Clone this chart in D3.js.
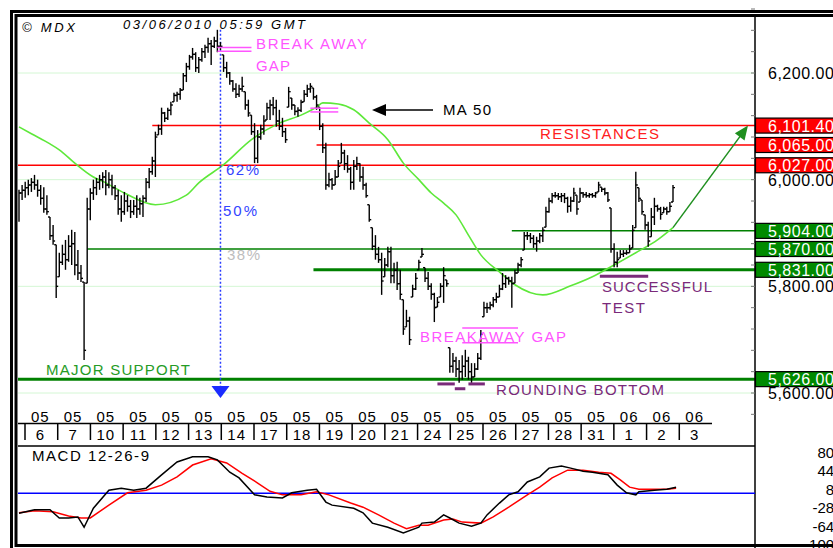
<!DOCTYPE html>
<html>
<head>
<meta charset="utf-8">
<script src="https://cdn.jsdelivr.net/npm/d3@7"></script>
<style>
  body { margin: 0; background: #fff; }
  text { font-family: "Liberation Sans", Arial, sans-serif; }
</style>
</head>
<body>
<svg id="chart" width="833" height="548"></svg>
<script>

// intraday bars, 06/05 -> 02/06/2010
var barHigh = [
  5981,5990,5996,6000,6003,6009,6000,5990,5986,5971,5930,5915,5878,5863,5878,5887,5896,5906,5902,5868,5840,5808,5966,
  5984,6000,6003,6009,6014,6018,6014,6009,5990,5981,5971,5977,5971,5962,5962,5971,5966,5971,6003,6022,
  6043,6090,6103,6135,6127,6135,6146,6163,6165,6172,6200,6219,6234,6247,6239,6230,6247,6253,6266,6262,6268,6281,6258,
  6234,6221,6202,6187,6181,6178,6193,6165,6150,6121,6106,6093,6103,6121,6144,6150,6155,6150,6131,6116,6097,
  6174,6153,6140,6136,6150,6168,6178,6181,6172,6159,6136,6106,6069,6013,6003,6018,6037,6069,6056,6046,6024,6037,
  6043,6031,6024,5994,5953,5910,5896,5874,5863,5853,5874,5874,5844,5846,5831,5775,5756,5743,5803,5825,5850,5872,
  5835,5827,5806,5788,5780,5806,5836,5812,
  5685,5675,5668,5662,5671,5681,5668,5656,5656,5675,5718,5771,5769,5771,5780,5788,5803,5825,5821,5818,5818,5831,
  5844,5855,5902,5902,5900,5896,5893,5900,5911,5949,5966,5975,5977,5975,5975,5975,5968,
  5968,5985,5971,5985,5977,5977,5975,5975,5977,5996,5986,5985,5977,5947,5881,5865,5868,5868,5868,5878,5915,6015,
  5985,5962,5934,5921,5947,5966,5953,5949,5949,5949,5958,5990
];
var barLow = [
  5921,5962,5966,5971,5977,5981,5968,5953,5938,5934,5887,5878,5778,5818,5840,5831,5846,5840,5821,5812,5808,5662,5806,
  5924,5962,5971,5981,5984,5971,5984,5971,5962,5934,5921,5934,5940,5928,5934,5928,5934,5930,5958,5984,
  6009,6005,6084,6084,6108,6112,6121,6146,6146,6150,6168,6183,6206,6225,6202,6200,6221,6228,6238,6215,6247,6239,6243,
  6202,6191,6178,6165,6153,6155,6165,6131,6118,6084,6031,6031,6075,6084,6112,6112,6121,6099,6093,6080,6069,
  6136,6131,6121,6118,6127,6146,6155,6163,6150,6131,6093,6050,5981,5986,5981,5990,6005,6031,6018,6013,5981,5981,
  6018,5996,5981,5966,5921,5868,5850,5844,5784,5818,5836,5806,5806,5793,5775,5709,5724,5690,5780,5793,5831,5855,
  5808,5793,5775,5733,5761,5780,5769,5799,
  5638,5638,5630,5619,5625,5630,5625,5619,5630,5643,5662,5743,5750,5756,5761,5769,5780,5793,5797,5803,5760,5806,
  5825,5836,5868,5887,5881,5872,5865,5881,5883,5911,5938,5956,5966,5962,5958,5956,5938,
  5940,5958,5934,5958,5966,5966,5966,5966,5966,5977,5977,5971,5958,5863,5836,5836,5853,5855,5859,5863,5872,5910,
  5958,5934,5906,5874,5893,5915,5940,5925,5938,5934,5940,5958
];
var barClose = [
  5975,5980,5985,5990,5995,5990,5980,5965,5945,5940,5895,5885,5800,5845,5860,5850,5875,5880,5840,5825,5815,5680,5945,
  5975,5985,5995,6000,6005,5990,6000,5985,5970,5945,5940,5960,5950,5940,5950,5945,5955,5965,5995,6015,
  6035,6080,6095,6125,6115,6130,6140,6158,6160,6168,6195,6212,6230,6235,6210,6225,6240,6248,6255,6250,6260,6250,6250,
  6210,6200,6185,6170,6160,6170,6175,6140,6125,6090,6040,6080,6095,6110,6135,6140,6135,6110,6100,6090,6075,
  6165,6140,6128,6130,6145,6160,6170,6175,6155,6140,6100,6060,5990,6000,5990,6005,6025,6050,6030,6020,5995,6025,
  6030,6005,5990,5970,5925,5875,5860,5850,5810,5840,5865,5820,5830,5805,5785,5720,5735,5700,5795,5815,5845,5860,
  5815,5800,5785,5760,5770,5800,5820,5805,
  5650,5660,5645,5640,5650,5660,5640,5630,5645,5665,5710,5760,5760,5765,5775,5780,5795,5805,5815,5810,5805,5825,
  5840,5850,5895,5895,5890,5880,5885,5895,5905,5940,5960,5970,5970,5968,5970,5965,5950,
  5960,5975,5945,5975,5972,5970,5972,5970,5975,5990,5982,5975,5962,5870,5845,5850,5860,5862,5863,5870,5905,5990,
  5965,5940,5915,5885,5930,5950,5945,5935,5945,5940,5950,5985
];

// 50 period moving average (bar index, value)
var maIndex = [0,4,10,13,18,24,28,34,44,54,58,66,75,84,91,96,98,103,108,113,119,124,129,133,137,141,145,149,155,160,169,178,185,192,199,206,211];
var maValue = [6099,6086,6067,6056,6031,6005,5994,5975,5953,5971,5994,6028,6075,6106,6121,6136,6144,6142,6131,6106,6075,6031,6000,5975,5956,5934,5896,5859,5827,5803,5784,5801,5818,5840,5863,5887,5910];

// MACD 12-26-9 (bar index, value)
var macdIndex = [0,5,10,13,16,19,21,24,29,33,37,41,46,51,56,61,64,68,71,76,80,85,88,93,96,99,101,108,111,114,119,124,129,130,134,137,139,142,146,149,151,155,158,161,164,168,171,175,178,182,185,190,193,196,199,200,205,209,212];
var macdValue = [-39,-32,-32,-48,-48,-46,-66,-29,6,10,6,10,36,61,71,71,65,41,30,-3,-7,-9,1,6,8,-17,-23,-29,-38,-58,-66,-77,-66,-58,-56,-42,-48,-58,-64,-58,-42,-19,-3,3,22,32,49,53,49,43,41,36,16,1,-3,3,6,8,12];
var signalIndex = [0,5,11,16,20,23,29,35,41,46,51,56,62,67,72,77,81,85,91,96,100,107,111,116,121,125,129,132,137,140,143,149,153,158,164,168,172,177,182,187,191,194,197,200,205,209,212];
var signalValue = [-38,-34,-36,-44,-48,-48,-23,1,6,16,32,55,67,59,39,20,4,-3,-3,3,-3,-19,-27,-42,-58,-69,-62,-62,-52,-50,-56,-58,-46,-27,-3,12,30,45,45,41,39,26,12,8,8,8,10];

var months = ["05","05","05","05","05","05","05","05","05","05","05","05","05","05","05","05","05","05","06","06","06"];
var days = ["6","7","10","11","12","13","14","17","18","19","20","21","24","25","26","27","28","31","1","2","3"];

var priceTicks = [6200, 6000, 5800, 5600];
var macdTicks = [80, 44, 8, -28, -64, -100];
var resistances = [6101.4, 6065, 6027];
var supports = [5904, 5870, 5831, 5626];


var svg = d3.select("#chart");
var left = 18, right = 755;

var x = d3.scaleLinear().domain([0, barHigh.length - 1]).range([19, 673]);
var y = d3.scaleLinear().domain([5600, 6200]).range([393, 73]);
var yM = d3.scaleLinear().domain([-100, 80]).range([544.7, 452.2]);
var dayBand = d3.scaleBand().domain(d3.range(days.length)).range([25, 712]);
var fmt = d3.format(",.2f");

function hline(g, v, x1, color, width) {
  g.append("line")
    .attr("x1", x1).attr("x2", right)
    .attr("y1", y(v)).attr("y2", y(v))
    .attr("stroke", color).attr("stroke-width", width);
}

function label(g, t, px, py, color, len, italic) {
  g.append("text")
    .attr("x", px).attr("y", py)
    .attr("fill", color)
    .attr("font-size", italic ? 13 : 15)
    .attr("font-style", italic ? "italic" : null)
    .attr("textLength", len)
    .attr("lengthAdjust", "spacing")
    .text(t);
}

// grid
svg.append("g").selectAll("line").data(priceTicks).enter().append("line")
  .attr("x1", left).attr("x2", right)
  .attr("y1", function(d){ return y(d); }).attr("y2", function(d){ return y(d); })
  .attr("stroke", "#d4f7d4").attr("stroke-width", 1);

// levels
var lev = svg.append("g");
hline(lev, resistances[0], x(43), "#ff0000", 1.5);
hline(lev, resistances[1], x(96), "#ff0000", 1.5);
hline(lev, resistances[2], left, "#ff0000", 1.5);
hline(lev, supports[0], x(159), "#008000", 1.5);
hline(lev, supports[1], x(22), "#008000", 1.5);
hline(lev, supports[2], x(95), "#008000", 3);
hline(lev, supports[3], left, "#008000", 3);

// moving average
var maLine = d3.line()
  .x(function(d){ return x(d[0]); })
  .y(function(d){ return y(d[1]); })
  .curve(d3.curveMonotoneX);
svg.append("path")
  .datum(d3.zip(maIndex, maValue))
  .attr("fill", "none").attr("stroke", "#5ee83a").attr("stroke-width", 1.6)
  .attr("d", maLine);

// fibonacci marker
var fibX = x(65);
svg.append("line")
  .attr("x1", fibX).attr("x2", fibX).attr("y1", y(6281)).attr("y2", 386)
  .attr("stroke", "#2a3cff").attr("stroke-width", 1.5).attr("stroke-dasharray", "2,2");
svg.append("path")
  .attr("d", "M" + (fibX - 9) + ",386L" + (fibX + 9) + ",386L" + fibX + ",398Z")
  .attr("fill", "#1a2cff");

// bars
var idx = d3.range(barHigh.length);
var bars = svg.append("g").attr("stroke", "#000").attr("stroke-width", 1.4);
bars.selectAll("line.hl").data(idx).enter().append("line")
  .attr("x1", function(i){ return x(i); }).attr("x2", function(i){ return x(i); })
  .attr("y1", function(i){ return y(barHigh[i]); })
  .attr("y2", function(i){ return y(barLow[i]); });
bars.selectAll("line.c").data(idx).enter().append("line")
  .attr("x1", function(i){ return x(i); }).attr("x2", function(i){ return x(i) + 2; })
  .attr("y1", function(i){ return y(barClose[i]); })
  .attr("y2", function(i){ return y(barClose[i]); });
bars.selectAll("line.o").data(idx.slice(1)).enter().append("line")
  .attr("x1", function(i){ return x(i) - 2; }).attr("x2", function(i){ return x(i); })
  .attr("y1", function(i){ return y(Math.max(barLow[i], Math.min(barHigh[i], barClose[i - 1]))); })
  .attr("y2", function(i){ return y(Math.max(barLow[i], Math.min(barHigh[i], barClose[i - 1]))); });

// gap marks
var marks = svg.append("g").attr("stroke-width", 1.5);
[[64, 75, 6248], [64, 75, 6241], [94, 103, 6134], [94, 103, 6127], [143, 161, 5722], [143, 161, 5694]].forEach(function(m){
  marks.append("line").attr("x1", x(m[0])).attr("x2", x(m[1]))
    .attr("y1", y(m[2])).attr("y2", y(m[2])).attr("stroke", "#ff55ff");
});
[[135, 140.6, 5617], [140.6, 144, 5608], [145, 150.3, 5617]].forEach(function(m){
  marks.append("line").attr("x1", x(m[0])).attr("x2", x(m[1]))
    .attr("y1", y(m[2])).attr("y2", y(m[2])).attr("stroke", "#7a2a7a").attr("stroke-width", 3);
});
marks.append("line").attr("x1", x(187.4)).attr("x2", x(203))
  .attr("y1", y(5819)).attr("y2", y(5819)).attr("stroke", "#7a2a7a").attr("stroke-width", 3);

// arrows
svg.append("path")
  .attr("d", "M372,110L386,104L386,116Z").attr("fill", "#000");
svg.append("line").attr("x1", 385).attr("x2", 433).attr("y1", 110).attr("y2", 110)
  .attr("stroke", "#000").attr("stroke-width", 1.5);

var ax0 = x(barHigh.length - 1), ay0 = y(maValue[maValue.length - 1]);
var ax1 = 748, ay1 = y(6101.4);
var ang = Math.atan2(ay1 - ay0, ax1 - ax0);
svg.append("line").attr("x1", ax0).attr("y1", ay0)
  .attr("x2", ax1 - 10 * Math.cos(ang)).attr("y2", ay1 - 10 * Math.sin(ang))
  .attr("stroke", "#1f8f1f").attr("stroke-width", 1.5);
var hx = ax1 - 14 * Math.cos(ang), hy = ay1 - 14 * Math.sin(ang);
svg.append("path")
  .attr("d", "M" + ax1 + "," + ay1 +
    "L" + (hx + 6 * Math.sin(ang)) + "," + (hy - 6 * Math.cos(ang)) +
    "L" + (hx - 6 * Math.sin(ang)) + "," + (hy + 6 * Math.cos(ang)) + "Z")
  .attr("fill", "#1f8f1f");

// annotations
var ann = svg.append("g");
label(ann, "\u00a9 MDX", 22, 32, "#000", 53, true);
label(ann, "03/06/2010  05:59 GMT", 123, 28.5, "#000", 182, true);
label(ann, "BREAK AWAY", 256, 49, "#ff55ff", 111);
label(ann, "GAP", 256, 71, "#ff55ff", 34);
label(ann, "MA 50", 443, 115, "#000", 48);
label(ann, "RESISTANCES", 540, 139, "#ff2020", 119);
label(ann, "62%", 226, 175, "#3344ff", 33);
label(ann, "50%", 223, 216, "#3344ff", 34);
label(ann, "38%", 227, 260, "#bdbdbd", 33);
label(ann, "MAJOR SUPPORT", 46, 375, "#259b25", 144);
label(ann, "BREAKAWAY GAP", 420, 342, "#ff55ff", 146);
label(ann, "ROUNDING BOTTOM", 496, 395, "#7a2a7a", 168);
label(ann, "SUCCESSFUL", 602, 292, "#7a2a7a", 110);
label(ann, "TEST", 602, 313, "#7a2a7a", 43);

// price axis
var axis = svg.append("g");
axis.append("line").attr("x1", right).attr("x2", right).attr("y1", 16).attr("y2", 548)
  .attr("stroke", "#000").attr("stroke-width", 1.5);
axis.selectAll("line.t").data(d3.range(5560, 6321, 40)).enter().append("line")
  .attr("x1", right - 4).attr("x2", right)
  .attr("y1", function(d){ return y(d); }).attr("y2", function(d){ return y(d); })
  .attr("stroke", "#777").attr("stroke-width", 1);
axis.selectAll("text.p").data(priceTicks).enter().append("text")
  .attr("x", 768).attr("y", function(d){ return y(d) + 6; })
  .attr("font-size", 16).attr("letter-spacing", 0.5)
  .text(function(d){ return fmt(d); });

function levelBox(v, fill) {
  axis.append("rect")
    .attr("x", right + 0.5).attr("y", y(v) - 7.5).attr("width", 100).attr("height", 15)
    .attr("fill", fill).attr("stroke", "#000").attr("stroke-width", 1.2);
  axis.append("text")
    .attr("x", 768).attr("y", y(v) + 6)
    .attr("font-size", 16).attr("letter-spacing", 0.5).attr("fill", "#fff")
    .text(fmt(v));
}
resistances.forEach(function(v){ levelBox(v, "#ff0000"); });
supports.forEach(function(v){ levelBox(v, "#008a00"); });

// date axis
var dates = svg.append("g");
dates.append("line").attr("x1", left).attr("x2", 712).attr("y1", 423.5).attr("y2", 423.5)
  .attr("stroke", "#000").attr("stroke-width", 1.5);
dates.selectAll("line.s").data(d3.range(days.length)).enter().append("line")
  .attr("x1", function(i){ return dayBand(i); }).attr("x2", function(i){ return dayBand(i); })
  .attr("y1", 423).attr("y2", 440)
  .attr("stroke", "#000").attr("stroke-width", 1.5);
dates.selectAll("text.m").data(months).enter().append("text")
  .attr("x", function(d, i){ return dayBand(i) + dayBand.bandwidth() / 2 - 1; })
  .attr("y", 421.5).attr("text-anchor", "middle")
  .attr("font-size", 15).attr("letter-spacing", 1)
  .text(function(d){ return d; });
dates.selectAll("text.d").data(days).enter().append("text")
  .attr("x", function(d, i){ return dayBand(i) + dayBand.bandwidth() / 2 - 1; })
  .attr("y", 440).attr("text-anchor", "middle")
  .attr("font-size", 15).attr("letter-spacing", 1)
  .text(function(d){ return d; });

// MACD panel
var macd = svg.append("g");
macd.append("line").attr("x1", left).attr("x2", right).attr("y1", 446).attr("y2", 446)
  .attr("stroke", "#000").attr("stroke-width", 1.5);
macd.append("line").attr("x1", left).attr("x2", right).attr("y1", yM(0)).attr("y2", yM(0))
  .attr("stroke", "#0000ff").attr("stroke-width", 1.5);
var mLine = d3.line()
  .x(function(d){ return x(d[0]); })
  .y(function(d){ return yM(d[1]); });
macd.append("path").datum(d3.zip(signalIndex, signalValue))
  .attr("fill", "none").attr("stroke", "#ff0000").attr("stroke-width", 1.5).attr("d", mLine);
macd.append("path").datum(d3.zip(macdIndex, macdValue))
  .attr("fill", "none").attr("stroke", "#000").attr("stroke-width", 1.5).attr("d", mLine);
label(macd, "MACD 12-26-9", 32, 461, "#000", 117);
macd.selectAll("text.v").data(macdTicks).enter().append("text")
  .attr("x", 855).attr("y", function(d){ return yM(d) + 5.5; })
  .attr("text-anchor", "end").attr("font-size", 15)
  .text(function(d){ return d + ".00"; });

// frame
svg.append("rect").attr("x", 11.5).attr("y", 11.5).attr("width", 900).attr("height", 600)
  .attr("fill", "none").attr("stroke", "#000").attr("stroke-width", 3);
svg.append("rect").attr("x", 16).attr("y", 15.5).attr("width", 900).attr("height", 530)
  .attr("fill", "none").attr("stroke", "#000").attr("stroke-width", 3);

</script>
</body>
</html>
